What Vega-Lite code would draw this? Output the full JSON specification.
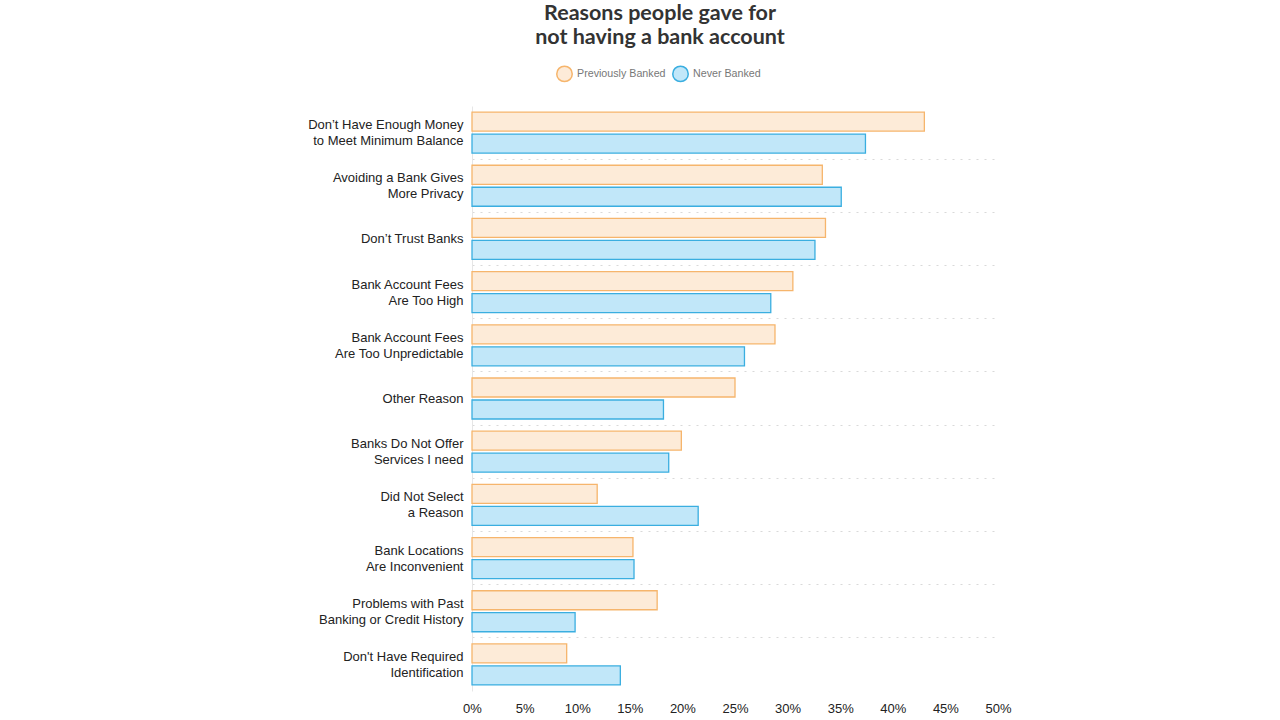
{
  "$schema": "https://vega.github.io/schema/vega-lite/v6.json",
  "width": 526,
  "height": 585,
  "autosize": {"type": "none"},
  "padding": {"left": 472, "top": 106, "right": 282, "bottom": 29},
  "background": "white",
  "title": {
    "text": ["Reasons people gave for", "not having a bank account"],
    "anchor": "middle",
    "frame": "group",
    "dx": -75,
    "offset": 17,
    "fontSize": 21.5,
    "lineHeight": 24,
    "font": "Lato",
    "fontWeight": "bold",
    "color": "#333333"
  },
  "config": {
    "view": {"stroke": null},
    "font": "Liberation Sans"
  },
  "data": {
    "values": [
      {"reason": "Don’t Have Enough Money|to Meet Minimum Balance", "group": "Previously Banked", "pct": 43.0},
      {"reason": "Don’t Have Enough Money|to Meet Minimum Balance", "group": "Never Banked", "pct": 37.4},
      {"reason": "Avoiding a Bank Gives|More Privacy", "group": "Previously Banked", "pct": 33.3},
      {"reason": "Avoiding a Bank Gives|More Privacy", "group": "Never Banked", "pct": 35.1},
      {"reason": "Don’t Trust Banks", "group": "Previously Banked", "pct": 33.6},
      {"reason": "Don’t Trust Banks", "group": "Never Banked", "pct": 32.6},
      {"reason": "Bank Account Fees|Are Too High", "group": "Previously Banked", "pct": 30.5},
      {"reason": "Bank Account Fees|Are Too High", "group": "Never Banked", "pct": 28.4},
      {"reason": "Bank Account Fees|Are Too Unpredictable", "group": "Previously Banked", "pct": 28.8},
      {"reason": "Bank Account Fees|Are Too Unpredictable", "group": "Never Banked", "pct": 25.9},
      {"reason": "Other Reason", "group": "Previously Banked", "pct": 25.0},
      {"reason": "Other Reason", "group": "Never Banked", "pct": 18.2},
      {"reason": "Banks Do Not Offer|Services I need", "group": "Previously Banked", "pct": 19.9},
      {"reason": "Banks Do Not Offer|Services I need", "group": "Never Banked", "pct": 18.7},
      {"reason": "Did Not Select|a Reason", "group": "Previously Banked", "pct": 11.9},
      {"reason": "Did Not Select|a Reason", "group": "Never Banked", "pct": 21.5},
      {"reason": "Bank Locations|Are Inconvenient", "group": "Previously Banked", "pct": 15.3},
      {"reason": "Bank Locations|Are Inconvenient", "group": "Never Banked", "pct": 15.4},
      {"reason": "Problems with Past|Banking or Credit History", "group": "Previously Banked", "pct": 17.6},
      {"reason": "Problems with Past|Banking or Credit History", "group": "Never Banked", "pct": 9.8},
      {"reason": "Don't Have Required|Identification", "group": "Previously Banked", "pct": 9.0},
      {"reason": "Don't Have Required|Identification", "group": "Never Banked", "pct": 14.1}
    ]
  },
  "mark": {"type": "bar", "strokeWidth": 1.3, "cornerRadius": 0},
  "encoding": {
    "y": {
      "field": "reason",
      "type": "nominal",
      "sort": null,
      "scale": {"paddingInner": 0, "paddingOuter": 0},
      "axis": {
        "title": null,
        "labelExpr": "split(datum.label, '|')",
        "labelFontSize": 13,
        "labelColor": "#222222",
        "labelLineHeight": 16,
        "labelPadding": 9,
        "labelLimit": 250,
        "labelOffset": {
          "condition": {"test": "indexof(datum.value, '|') >= 0", "value": -7.5},
          "value": 0
        },
        "ticks": false,
        "domain": true,
        "domainColor": "#e6e6e6",
        "domainWidth": 1,
        "grid": true,
        "bandPosition": 1,
        "gridColor": "#d9d9d9",
        "gridDash": [2, 6],
        "gridWidth": 1,
        "gridOpacity": {
          "condition": {"test": "datum.value === 'Don\\'t Have Required|Identification'", "value": 0},
          "value": 1
        }
      }
    },
    "yOffset": {
      "field": "group",
      "type": "nominal",
      "sort": ["Previously Banked", "Never Banked"],
      "scale": {"paddingInner": 0.136, "paddingOuter": 0.277}
    },
    "x": {
      "field": "pct",
      "type": "quantitative",
      "scale": {"domain": [0, 50]},
      "axis": {
        "title": null,
        "values": [0, 5, 10, 15, 20, 25, 30, 35, 40, 45, 50],
        "labelExpr": "datum.value + '%'",
        "labelFontSize": 13,
        "labelColor": "#222222",
        "labelPadding": 11,
        "ticks": false,
        "domain": false,
        "grid": false,
        "labelFlush": false
      }
    },
    "color": {
      "field": "group",
      "type": "nominal",
      "scale": {"domain": ["Previously Banked", "Never Banked"], "range": ["#fdebd8", "#c1e7f9"]},
      "legend": {
        "title": null,
        "orient": "none",
        "direction": "horizontal",
        "legendX": 84,
        "legendY": -41,
        "symbolType": "circle",
        "symbolSize": 240,
        "symbolStrokeWidth": 1.5,
        "labelFontSize": 10.7,
        "labelColor": "#777777",
        "labelOffset": 4,
        "columnPadding": 3
      }
    },
    "stroke": {
      "field": "group",
      "type": "nominal",
      "scale": {"domain": ["Previously Banked", "Never Banked"], "range": ["#f6b56c", "#3aaee0"]},
      "legend": null
    }
  }
}
